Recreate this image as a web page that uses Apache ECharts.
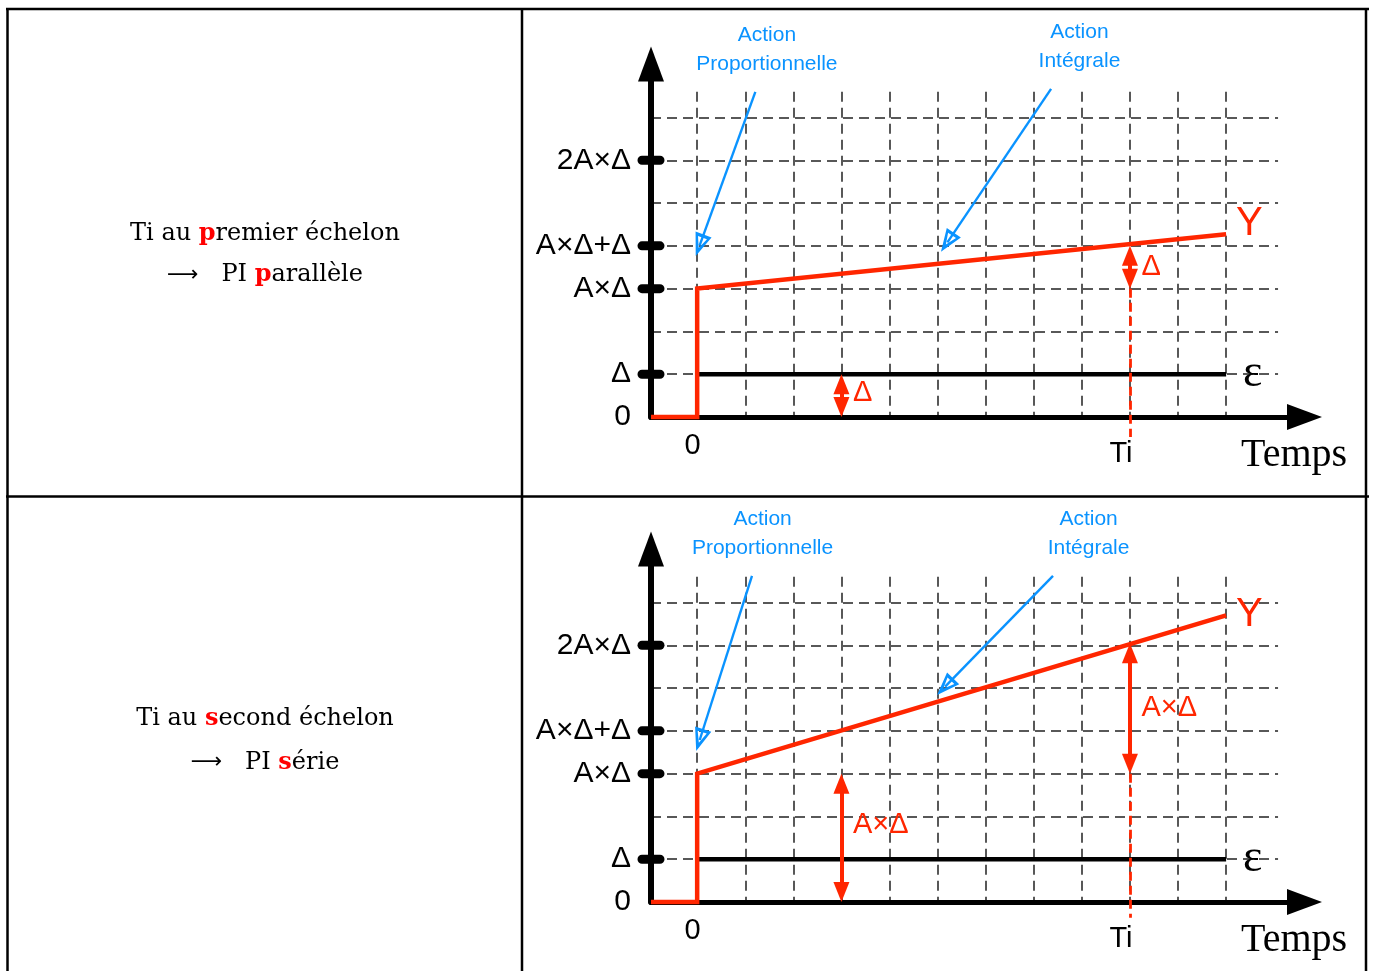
<!DOCTYPE html>
<html>
<head>
<meta charset="utf-8">
<script src="https://cdn.jsdelivr.net/npm/echarts@6/dist/echarts.min.js"></script>
<style>
  html, body { margin: 0; padding: 0; background: #fff; }
  #chart { width: 1373px; height: 971px; }
</style>
</head>
<body>
<div id="chart"></div>
<script>
// ---- chart values (time in grid steps, amplitude in multiples of Δ) ----
const gridCols = [0, 1, 2, 3, 4, 5, 6, 7, 8, 9, 10, 11];
const gridRows = [1, 2, 3, 4, 5, 6, 7];
const yTickValues = [0, 1, 3, 4, 6];
const yTickLabels = ['0', 'Δ', 'A×Δ', 'A×Δ+Δ', '2A×Δ'];
const xTickValues = [0, 9];
const xTickLabels = ['0', 'Ti'];
const TI = 9;

// error ε : step of amplitude Δ at t = 0
const epsTime = [0, 11];
const epsValue = [1, 1];

// controller output Y
const yTime = [-0.96, 0, 0, 11];
const yParallel = [0, 0, 3, 4.27];   // Ti reached on the first step  -> PI parallèle
const ySerie = [0, 0, 3, 6.7];       // Ti reached on the second step -> PI série

// double arrows : [t, from, to, label]
const arrowsParallel = [[3, 0, 1, 'Δ'], [9, 3, 4, 'Δ']];
const arrowsSerie = [[3, 0, 3, 'A×Δ'], [9, 3, 6.05, 'A×Δ']];

const calloutTexts = ['Action\nProportionnelle', 'Action\nIntégrale'];

// ---- layout ----
const X_MIN = -0.96, X_MAX = 12.63, Y_MAX = 8.25;
const GRID_LEFT = 651, GRID_W = 653.5, GRID_H = 353;
const PANEL_TOPS = [64, 549];
const UNIT_X = GRID_W / (X_MAX - X_MIN);
const UNIT_Y = GRID_H / Y_MAX;
const DASH_RIGHT = 12.08, DASH_TOP = 7.6;

const RED = '#ff2600';
const BLUE = '#0a93ff';
const SANS = 'Liberation Sans';
const SERIF = 'Liberation Serif';

// callout anchors in chart units: [text centre, line start, arrow tip]
const calloutsParallel = [
  [[1.45, 8.59], [1.21, 7.60], [-0.03, 3.76]],
  [[7.95, 8.66], [7.36, 7.67], [5.07, 3.86]]
];
const calloutsSerie = [
  [[1.36, 8.61], [1.14, 7.62], [-0.02, 3.53]],
  [[8.14, 8.61], [7.40, 7.62], [4.99, 4.84]]
];

const panels = [
  { y: yParallel, arrows: arrowsParallel, callouts: calloutsParallel,
    yLabelOffset: [0, -10], arrowLabelOffsets: [[0, -3], [0, 0]], tiBottom: -0.47 },
  { y: ySerie, arrows: arrowsSerie, callouts: calloutsSerie,
    yLabelOffset: [0, 0], arrowLabelOffsets: [[0, -13], [0, 0]], tiBottom: -0.37 }
];

const HOLLOW_HEAD = 'path://M50,0 L100,100 L0,100 Z M50,38 L22,86 L78,86 Z';
const CAPSULE = 'path://M4.5,0 L22.5,0 A4.5,4.5 0 0 1 22.5,9 L4.5,9 A4.5,4.5 0 0 1 4.5,0 Z';
const RED_HEAD = [16, 20];
const BLUE_HEAD = [17, 23];
const HIDDEN = { color: 'rgba(0,0,0,0)', opacity: 1 };

// pull the end of a segment back by px pixels, so a centred head ends on the tip
function pullBack(p0, p1, px) {
  const dx = (p1[0] - p0[0]) * UNIT_X, dy = (p1[1] - p0[1]) * UNIT_Y;
  const len = Math.hypot(dx, dy);
  const k = (len - px) / len;
  return [p0[0] + (p1[0] - p0[0]) * k, p0[1] + (p1[1] - p0[1]) * k];
}

const dashSegments = [];
gridCols.forEach(c => dashSegments.push({ coords: [[c, DASH_TOP], [c, 0]] }));
gridRows.forEach(r => dashSegments.push({ coords: [[X_MIN, r], [DASH_RIGHT, r]] }));

function panelSeries(i, p) {
  const ax = { xAxisIndex: i, yAxisIndex: i };
  const redInset = RED_HEAD[1] / 2 / UNIT_Y;
  return [
    { type: 'lines', coordinateSystem: 'cartesian2d', ...ax, z: 1, silent: true, clip: false,
      lineStyle: { color: '#222', width: 1.5, type: [10, 6], opacity: 1 },
      data: dashSegments },
    { type: 'line', name: 'ε', ...ax, z: 5, showSymbol: false, clip: false,
      data: epsTime.map((t, k) => [t, epsValue[k]]),
      lineStyle: { color: '#000', width: 4.5 },
      endLabel: { show: true, formatter: 'ε', distance: 17, color: '#000',
                  fontFamily: SERIF, fontSize: 46 } },
    { type: 'lines', coordinateSystem: 'cartesian2d', ...ax, z: 6, silent: true, clip: false,
      lineStyle: { color: RED, width: 2.8, type: [9, 5], opacity: 1 },
      data: [{ coords: [[TI, 3], [TI, p.tiBottom]] }] },
    { type: 'line', name: 'Y', ...ax, z: 7, showSymbol: false, clip: false,
      data: yTime.map((t, k) => [t, p.y[k]]),
      lineStyle: { color: RED, width: 4.5, join: 'miter' },
      endLabel: { show: true, formatter: 'Y', distance: 10, offset: p.yLabelOffset,
                  color: RED, fontFamily: SANS, fontSize: 40 } },
    { type: 'lines', coordinateSystem: 'cartesian2d', ...ax, z: 8, silent: true, clip: false,
      symbol: ['triangle', 'triangle'], symbolSize: [RED_HEAD, RED_HEAD],
      lineStyle: { color: RED, width: 4, opacity: 1 },
      data: p.arrows.map(a => ({ coords: [[a[0], a[1] + redInset], [a[0], a[2] - redInset]] })) },
    { type: 'scatter', ...ax, z: 8, silent: true, clip: false, symbolSize: 1, itemStyle: HIDDEN,
      data: p.arrows.map((a, k) => ({
        value: [a[0], (a[1] + a[2]) / 2],
        label: { show: true, position: 'right', distance: 11, offset: p.arrowLabelOffsets[k],
                 formatter: a[3], color: RED, fontFamily: SANS, fontSize: 29 } })) },
    { type: 'lines', coordinateSystem: 'cartesian2d', ...ax, z: 9, silent: true, clip: false,
      symbol: ['none', HOLLOW_HEAD], symbolSize: [BLUE_HEAD, BLUE_HEAD],
      lineStyle: { color: BLUE, width: 2.4, opacity: 1 },
      data: p.callouts.map(c => ({ coords: [c[1], pullBack(c[1], c[2], BLUE_HEAD[1] / 2)] })) },
    { type: 'scatter', ...ax, z: 9, silent: true, clip: false, symbolSize: 1, itemStyle: HIDDEN,
      data: p.callouts.map((c, k) => ({
        value: c[0],
        label: { show: true, position: 'inside', formatter: calloutTexts[k], color: BLUE,
                 textBorderWidth: 0, fontFamily: SANS, fontSize: 21, lineHeight: 29, align: 'center' } })) },
    { type: 'scatter', ...ax, z: 6, silent: true, clip: false,
      symbol: CAPSULE, symbolSize: [27, 9], itemStyle: { color: '#000', opacity: 1 },
      data: yTickValues.filter(v => v > 0).map(v => [X_MIN, v]) }
  ];
}

const captionRich = {
  r: { fill: '#ff0000', fontWeight: 'bold', fontFamily: 'DejaVu Serif', fontSize: 24 },
  a: { fill: '#000', fontFamily: 'DejaVu Sans', fontSize: 22 }
};
function caption(text, y) {
  return { type: 'text', x: 265, y: y, style: {
    text: text, fontFamily: 'DejaVu Serif', fontSize: 24, fill: '#000',
    align: 'center', verticalAlign: 'middle', rich: captionRich } };
}
function frameLine(x1, y1, x2, y2) {
  return { type: 'line', shape: { x1, y1, x2, y2 }, style: { stroke: '#000', lineWidth: 2.5 } };
}

const option = {
  animation: false,
  backgroundColor: '#fff',
  grid: PANEL_TOPS.map(t => ({ left: GRID_LEFT, top: t, width: GRID_W, height: GRID_H, containLabel: false })),
  xAxis: PANEL_TOPS.map((t, i) => ({
    gridIndex: i, type: 'value', min: X_MIN, max: X_MAX, z: 3,
    axisLine: { show: true, onZero: false, symbol: ['none', 'triangle'], symbolSize: [26, 35],
                lineStyle: { color: '#000', width: 5 } },
    axisTick: { show: false }, splitLine: { show: false },
    axisLabel: {
      customValues: xTickValues, margin: 14,
      formatter: v => (v === 0 ? '{z|' : '{t|') + xTickLabels[xTickValues.indexOf(v)] + '}',
      rich: {
        z: { fontFamily: SANS, fontSize: 29, color: '#000', padding: [0, 9, 0, 0] },
        t: { fontFamily: SANS, fontSize: 29, color: '#000', padding: [8, 18, 0, 0] }
      }
    }
  })),
  yAxis: PANEL_TOPS.map((t, i) => ({
    gridIndex: i, type: 'value', min: 0, max: Y_MAX, z: 3,
    axisLine: { show: true, onZero: false, symbol: ['none', 'triangle'], symbolSize: [26, 35],
                lineStyle: { color: '#000', width: 6 } },
    axisTick: { show: false }, splitLine: { show: false },
    axisLabel: {
      customValues: yTickValues, margin: 20, color: '#000', fontFamily: SANS, fontSize: 30,
      formatter: v => yTickLabels[yTickValues.indexOf(v)]
    }
  })),
  series: panels.flatMap((p, i) => panelSeries(i, p)),
  graphic: [
    // table frame
    frameLine(6, 9, 1369, 9),
    frameLine(6, 496.5, 1369, 496.5),
    frameLine(7.5, 8, 7.5, 971),
    frameLine(522, 8, 522, 971),
    frameLine(1366, 8, 1366, 971),
    // row captions
    caption('Ti au {r|p}remier échelon', 233.5),
    caption('{a|⟶}   PI {r|p}arallèle', 275),
    caption('Ti au {r|s}econd échelon', 718.5),
    caption('{a|⟶}   PI {r|s}érie', 762.5),
    // time axis titles
    ...PANEL_TOPS.map(t => ({ type: 'text', x: 1241, y: t + GRID_H + 38, style: {
      text: 'Temps', fontFamily: SERIF, fontSize: 40, fill: '#000',
      align: 'left', verticalAlign: 'middle' } }))
  ]
};

const chart = echarts.init(document.getElementById('chart'), null, { renderer: 'canvas' });
chart.setOption(option);
</script>
</body>
</html>
